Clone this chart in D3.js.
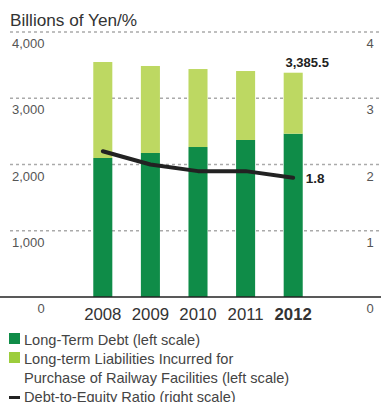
<!DOCTYPE html>
<meta charset="utf-8">
<title>Long-Term Debt</title>
<style>
body {
  margin: 0;
  font-family: "Liberation Sans", Arial, sans-serif;
  background: #fff;
}
.grid line {
  stroke: #aaa;
  stroke-width: 1.5px;
  stroke-dasharray: 3,3;
}
.tick-label {
  fill: #555;
  font-size: 13px;
}
.legend text {
  fill: #444;
  font-size: 14.6px;
}
</style>
<body>
<script src="https://cdn.jsdelivr.net/npm/d3@7"></script>
<script>

var years = ["2008", "2009", "2010", "2011", "2012"];
var longTermDebt = [2098, 2174, 2264, 2370, 2465];
var railwayLiabilities = [1449, 1313, 1177, 1041, 920.5];
var debtEquity = [2.2, 2.0, 1.9, 1.9, 1.8];
var leftTicks = [0, 1000, 2000, 3000, 4000];
var rightTicks = [0, 1, 2, 3, 4];

var width = 381,
    height = 402;

var darkGreen = "#0f8c48",
    lightGreen = "#bdd862";

var svg = d3.select("body").append("svg")
    .attr("width", width)
    .attr("height", height);

var x = d3.scaleBand()
    .domain(years)
    .range([79, 317])
    .paddingInner(0.6)
    .paddingOuter(0.3);

var y = d3.scaleLinear()
    .domain([0, 4000])
    .range([297, 32]);

var yRight = d3.scaleLinear()
    .domain([0, 4])
    .range([297, 32]);

// title
svg.append("text")
    .attr("x", 10)
    .attr("y", 26)
    .style("font-size", "17.2px")
    .style("fill", "#333")
    .text("Billions of Yen/%");

// gridlines
svg.append("g")
    .attr("class", "grid")
  .selectAll("line")
    .data(leftTicks.slice(1))
  .enter().append("line")
    .attr("x1", 10)
    .attr("x2", width)
    .attr("y1", function(d) { return y(d); })
    .attr("y2", function(d) { return y(d); });

// left labels
svg.selectAll(".left-label")
    .data(leftTicks)
  .enter().append("text")
    .attr("class", "tick-label")
    .attr("x", function(d) { return d === 0 ? 41 : 12; })
    .attr("text-anchor", function(d) { return d === 0 ? "middle" : "start"; })
    .attr("y", function(d) { return y(d) + 16; })
    .text(function(d) { return d3.format(",")(d); });

// right labels
svg.selectAll(".right-label")
    .data(rightTicks)
  .enter().append("text")
    .attr("class", "tick-label")
    .attr("x", 370)
    .attr("text-anchor", "middle")
    .attr("y", function(d) { return yRight(d) + 16; })
    .text(function(d) { return d; });

// stacked bars
var stack = years.map(function(yr, i) {
  return { year: yr, debt: longTermDebt[i], rail: railwayLiabilities[i] };
});

var bars = svg.selectAll(".bar")
    .data(stack)
  .enter().append("g")
    .attr("class", "bar");

bars.append("rect")
    .attr("x", function(d) { return x(d.year); })
    .attr("width", x.bandwidth())
    .attr("y", function(d) { return y(d.debt); })
    .attr("height", function(d) { return y(0) - y(d.debt); })
    .style("fill", darkGreen);

bars.append("rect")
    .attr("x", function(d) { return x(d.year); })
    .attr("width", x.bandwidth())
    .attr("y", function(d) { return y(d.debt + d.rail); })
    .attr("height", function(d) { return y(d.debt) - y(d.debt + d.rail); })
    .style("fill", lightGreen);

// baseline
svg.append("line")
    .attr("x1", 0)
    .attr("x2", width)
    .attr("y1", y(0))
    .attr("y2", y(0))
    .style("stroke", "#222")
    .style("stroke-width", 1.5);

// year labels
svg.selectAll(".year")
    .data(years)
  .enter().append("text")
    .attr("x", function(d) { return x(d) + x.bandwidth() / 2; })
    .attr("y", 320)
    .attr("text-anchor", "middle")
    .style("font-size", "16.8px")
    .style("font-weight", function(d, i) { return i === years.length - 1 ? "bold" : "normal"; })
    .style("fill", "#333")
    .text(function(d) { return d; });

// ratio line
var line = d3.line()
    .x(function(d, i) { return x(years[i]) + x.bandwidth() / 2; })
    .y(function(d) { return yRight(d); });

svg.append("path")
    .datum(debtEquity)
    .attr("d", line)
    .style("fill", "none")
    .style("stroke", "#222")
    .style("stroke-width", 4)
    .style("stroke-linecap", "round")
    .style("stroke-linejoin", "round");

// value callouts
var last = years.length - 1;
svg.append("text")
    .attr("x", x(years[last]) + x.bandwidth() / 2 + 14)
    .attr("y", y(longTermDebt[last] + railwayLiabilities[last]) - 6)
    .attr("text-anchor", "middle")
    .style("font-size", "13px")
    .style("font-weight", "bold")
    .style("fill", "#222")
    .text(d3.format(",.1f")(longTermDebt[last] + railwayLiabilities[last]));

svg.append("text")
    .attr("x", x(years[last]) + x.bandwidth() + 3)
    .attr("y", yRight(debtEquity[last]) + 5)
    .style("font-size", "13.5px")
    .style("font-weight", "bold")
    .style("fill", "#222")
    .text(debtEquity[last].toFixed(1));

// legend
var legendItems = [
  { type: "box", color: darkGreen, lines: ["Long-Term Debt (left scale)"] },
  { type: "box", color: "#9ccd3c", lines: ["Long-term Liabilities Incurred for", "Purchase of Railway Facilities (left scale)"] },
  { type: "line", color: "#222", lines: ["Debt-to-Equity Ratio (right scale)"] }
];

var legend = svg.append("g").attr("class", "legend");
var rowY = 345;
legendItems.forEach(function(item) {
  if (item.type === "box") {
    legend.append("rect")
        .attr("x", 9)
        .attr("y", rowY - 12)
        .attr("width", 11)
        .attr("height", 11)
        .style("fill", item.color);
  } else {
    legend.append("rect")
        .attr("x", 9)
        .attr("y", rowY - 6)
        .attr("width", 11)
        .attr("height", 3)
        .style("fill", item.color);
  }
  item.lines.forEach(function(t, j) {
    legend.append("text")
        .attr("x", 24)
        .attr("y", rowY + j * 19)
        .text(t);
  });
  rowY += item.lines.length * 19;
});

</script>
</body>
